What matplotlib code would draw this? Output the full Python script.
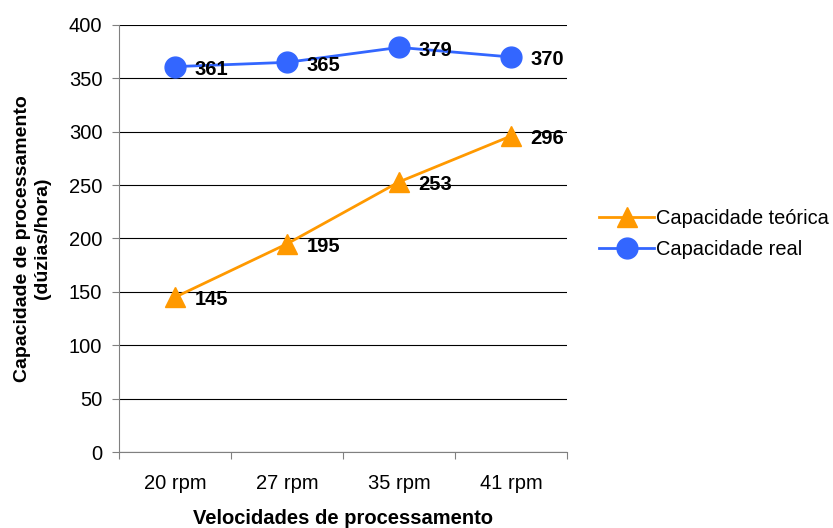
import matplotlib
matplotlib.use("Agg")
import matplotlib.pyplot as plt

categories = ["20 rpm", "27 rpm", "35 rpm", "41 rpm"]
teorica = [145, 195, 253, 296]
real = [361, 365, 379, 370]

plt.rcParams['font.family'] = ['Liberation Sans', 'DejaVu Sans']

fig = plt.figure(figsize=(8.33, 5.28), dpi=100)
ax = fig.add_axes([0.1429, 0.1439, 0.5378, 0.8088])

x = list(range(len(categories)))
ax.plot(x, teorica, color='#FF9900', lw=2, marker='^', markersize=15, label='Capacidade teórica', zorder=3)
ax.plot(x, real, color='#3366FF', lw=2, marker='o', markersize=15, label='Capacidade real', zorder=3)

for xi, v in zip(x, teorica):
    ax.annotate(str(v), (xi, v), xytext=(14, -2), textcoords='offset points', ha='left', va='center',
                fontsize=14.5, fontweight='bold')
for xi, v in zip(x, real):
    ax.annotate(str(v), (xi, v), xytext=(14, -2), textcoords='offset points', ha='left', va='center',
                fontsize=14.5, fontweight='bold')

ax.set_xlim(-0.5, 3.5)
ax.set_ylim(0, 400)
ax.set_yticks(range(0, 401, 50))
ax.set_xticks([-0.5, 0.5, 1.5, 2.5, 3.5])
ax.set_xticklabels([])
ax.set_xticks(x, minor=True)
ax.set_xticklabels(categories, minor=True)
ax.tick_params(axis='x', which='minor', length=0, pad=16, labelsize=14.5)
ax.tick_params(axis='x', which='major', length=5, direction='out', color='#808080')
ax.tick_params(axis='y', length=5, direction='out', labelsize=14.5, color='#808080', pad=7)

ax.grid(axis='y', color='#000000', lw=0.8)
ax.set_axisbelow(True)
for s in ['top', 'right']:
    ax.spines[s].set_visible(False)
ax.spines['left'].set_color('#808080')
ax.spines['bottom'].set_color('#808080')

ax.set_xlabel('Velocidades de processamento', fontsize=14.5, fontweight='bold', labelpad=11)
ax.set_ylabel('Capacidade de processamento\n(dúzias/hora)', fontsize=14, fontweight='bold', labelpad=13)

ax.legend(loc='center left', bbox_to_anchor=(1.045, 0.51), frameon=False, fontsize=14.4,
          handlelength=2.75, handletextpad=0.1, labelspacing=0.6, borderaxespad=0.2)

fig.savefig('out.png', dpi=100)
